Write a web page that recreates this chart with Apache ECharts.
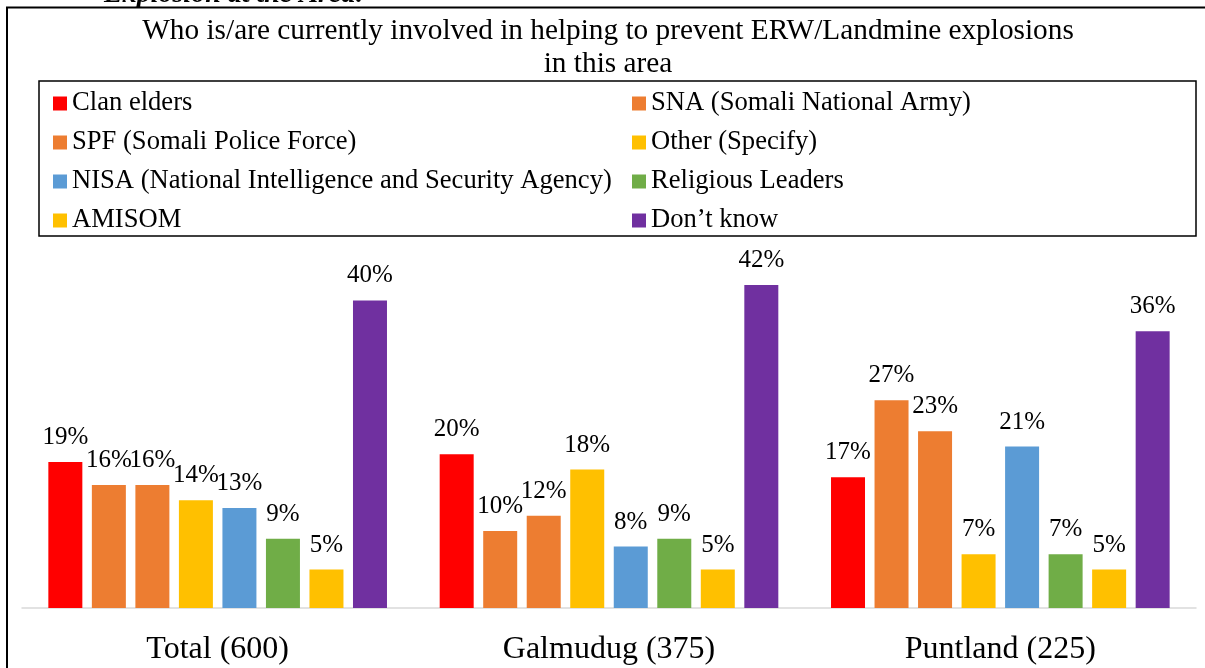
<!DOCTYPE html>
<html>
<head>
<meta charset="utf-8">
<script src="https://cdn.jsdelivr.net/npm/echarts@6/dist/echarts.min.js"></script>
<style>
html,body{margin:0;padding:0;background:#fff;}
#chart{width:1205px;height:668px;}
</style>
</head>
<body>
<div id="chart"></div>
<script>
const categories = ['Total (600)', 'Galmudug (375)', 'Puntland (225)'];
const clanElders = [19, 20, 17];
const sna = [16, 10, 27];
const spf = [16, 12, 23];
const other = [14, 18, 7];
const nisa = [13, 8, 21];
const religious = [9, 9, 7];
const amisom = [5, 5, 5];
const dontKnow = [40, 42, 36];
const seriesNames = ['Clan elders', 'SNA (Somali National Army)', 'SPF (Somali Police Force)', 'Other (Specify)',
  'NISA (National Intelligence and Security Agency)', 'Religious Leaders', 'AMISOM', 'Don\u2019t know'];
const seriesValues = [clanElders, sna, spf, other, nisa, religious, amisom, dontKnow];
const seriesColors = ['#FF0000', '#ED7D31', '#ED7D31', '#FFC000', '#5B9BD5', '#70AD47', '#FFC000', '#7030A0'];
const titleText = 'Who is/are currently involved in helping to prevent ERW/Landmine explosions\nin this area';
const headingText = 'Explosion at the Area:';

const FONT = '"Liberation Serif", "Times New Roman", serif';
const chart = echarts.init(document.getElementById('chart'), null, {renderer: 'canvas'});

const legendBase = {
  orient: 'vertical', top: 90, padding: 0, itemWidth: 14, itemHeight: 14, itemGap: 12,
  icon: 'rect', selectedMode: false,
  textStyle: {fontFamily: FONT, fontSize: 26.6, lineHeight: 26, color: '#000'}
};

chart.setOption({
  animation: false,
  backgroundColor: '#fff',
  legend: [
    Object.assign({left: 53, data: [seriesNames[0], seriesNames[2], seriesNames[4], seriesNames[6]]}, legendBase),
    Object.assign({left: 632, data: [seriesNames[1], seriesNames[3], seriesNames[5], seriesNames[7]]}, legendBase)
  ],
  grid: {left: 22, right: 9, top: 223.5, bottom: 60, containLabel: false},
  xAxis: {
    type: 'category', data: categories,
    axisLine: {show: true, lineStyle: {color: '#d9d9d9', width: 1.5}},
    axisTick: {show: false},
    axisLabel: {fontFamily: FONT, fontSize: 32, color: '#000', margin: 26}
  },
  yAxis: {type: 'value', min: 0, max: 50, show: false, splitLine: {show: false}},
  graphic: [
    {type: 'text', left: 104, top: -19, style: {text: headingText, font: 'italic bold 28px ' + FONT, fill: '#000'}},
    {type: 'text', x: 608, y: 15, style: {text: titleText, align: 'center', verticalAlign: 'top', font: '29.3px ' + FONT, lineHeight: 33, fill: '#000'}},
    {type: 'polyline', shape: {points: [[7, 680], [7, 7.5], [1215, 7.5]]}, style: {stroke: '#000', lineWidth: 2, fill: null}},
    {type: 'rect', shape: {x: 39, y: 81, width: 1157, height: 155}, style: {stroke: '#000', lineWidth: 1.5, fill: null}}
  ],
  series: seriesNames.map((name, i) => ({
    name: name, type: 'bar', data: seriesValues[i],
    barWidth: 34, barGap: '28%',
    itemStyle: {color: seriesColors[i]},
    label: {show: true, position: 'top', distance: 12, formatter: '{c}%', fontFamily: FONT, fontSize: 25, color: '#000'}
  }))
});
</script>
</body>
</html>
